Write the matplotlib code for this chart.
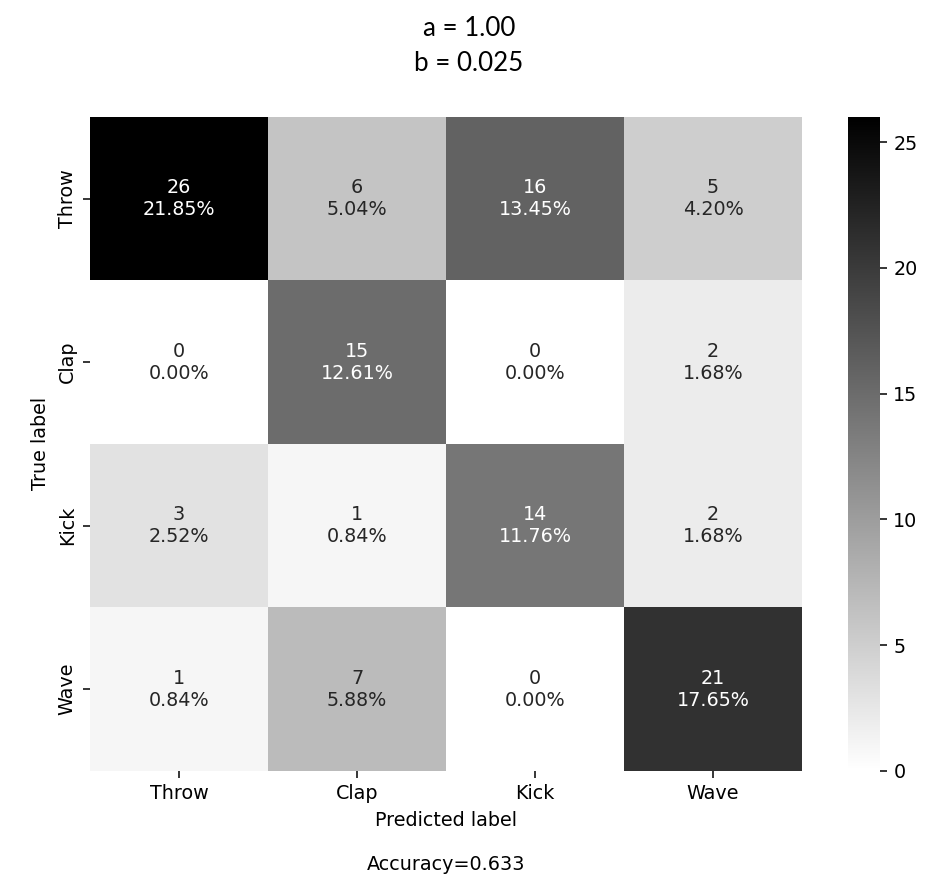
import numpy as np
import matplotlib
matplotlib.use('Agg')
import matplotlib.pyplot as plt
import seaborn as sns

# confusion matrix values
categories = ['Throw', 'Clap', 'Kick', 'Wave']
cf_matrix = np.array([
    [26, 6, 16, 5],
    [0, 15, 0, 2],
    [3, 1, 14, 2],
    [1, 7, 0, 21],
])
accuracy = 0.633
title_lines = ['a = 1.00', 'b = 0.025']

total = np.sum(cf_matrix)
counts = ['{0:0.0f}'.format(v) for v in cf_matrix.flatten()]
percents = ['{0:.2%}'.format(v) for v in cf_matrix.flatten() / total]
labels = np.asarray([f'{c}\n{p}' for c, p in zip(counts, percents)]).reshape(cf_matrix.shape)

dpi = 138
fig = plt.figure(figsize=(938 / dpi, 890 / dpi), dpi=dpi)
ax = fig.add_axes([0.096, 0.134, 0.759, 0.7345])
cax = fig.add_axes([0.904, 0.134, 0.034, 0.7345])

sns.heatmap(cf_matrix, annot=labels, fmt='', cmap='gray_r', vmin=0,
            xticklabels=categories, yticklabels=categories,
            ax=ax, cbar_ax=cax)

ax.set_ylabel('True label')
ax.set_xlabel('Predicted label' + '\n\nAccuracy={:0.3f}'.format(accuracy))

fig.text(0.5, 0.968, title_lines[0], ha='center', va='center',
         family='Lato', fontsize=13.5)
fig.text(0.5, 0.929, title_lines[1], ha='center', va='center',
         family='Lato', fontsize=13.5)

fig.savefig('out.png', dpi=dpi, facecolor='white')
